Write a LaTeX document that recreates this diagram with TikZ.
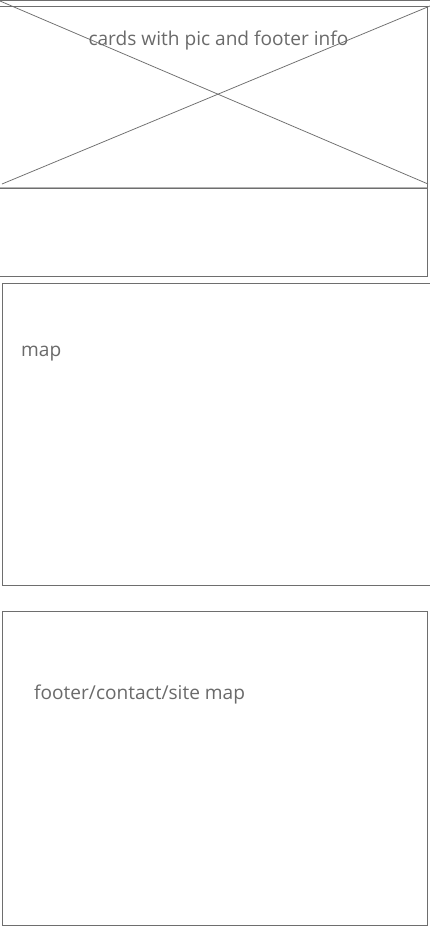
\documentclass[tikz,border=0pt]{standalone}
\usepackage{fontspec}
\setmainfont{Open Sans}
\definecolor{ln}{HTML}{6E6E6E}
\definecolor{lnl}{HTML}{B4B4B4}
\definecolor{tx}{HTML}{6A6A6A}
\begin{document}
\begin{tikzpicture}[x=1pt,y=-1pt,
  box/.style={draw=ln,line width=1pt},
  lbl/.style={text=tx,font=\fontsize{19.1}{21}\selectfont,inner sep=0pt}]
\useasboundingbox[fill=white] (0,0) rectangle (430,932);
% image placeholder
\draw[ln,line width=1pt] (0,0.6) -- (430,0.6);
\draw[ln,line width=0.75pt] (0,1) -- (428,184);
\draw[ln,line width=0.75pt] (2,184) -- (430,6);
\draw[lnl,line width=0.8pt] (0,187.2) -- (427,187.2);
% card
\draw[box] (-2,6) -- (427.3,6) -- (427.3,276.3) -- (-2,276.3);
\draw[box] (0,188.3) -- (427.3,188.3);
\node[lbl,anchor=base] (cards) at (218.5,45) {cards with pic and footer info};
% map
\draw[box] (434,283.3) -- (2.6,283.3) -- (2.6,585) -- (434,585);
\node[lbl,anchor=base west] (map) at (21,356) {map};
% footer
\draw[box] (2.6,611.6) rectangle (427.3,925);
\node[lbl,anchor=base west] (foot) at (34,699) {footer/contact/site map};
\end{tikzpicture}
\end{document}
